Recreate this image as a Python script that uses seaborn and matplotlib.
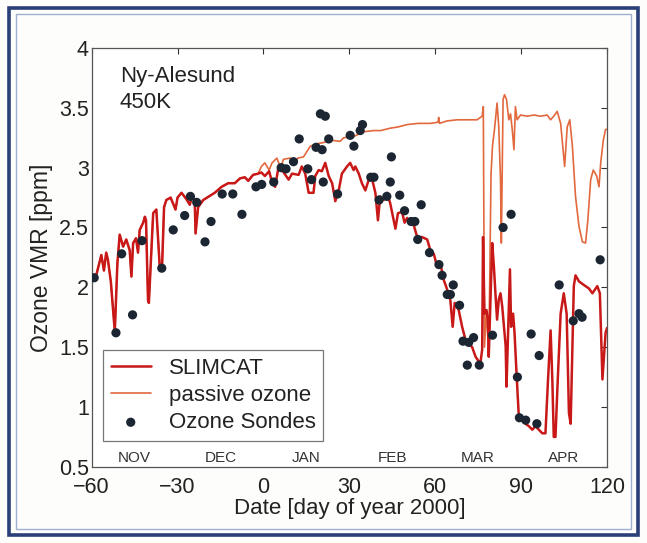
import numpy as np
import pandas as pd
import matplotlib
matplotlib.use("Agg")
import matplotlib.pyplot as plt
import seaborn as sns
from matplotlib.patches import Rectangle

# ---------------- data ----------------
slimcat_day = [-60.0, -58.4, -56.6, -55.7, -54.9, -54.3, -53.3, -51.9, -51.0, -50.2, -49.0, -47.9,
               -46.7, -46.1, -45.5, -44.5, -43.8, -43.2, -42.0, -41.4, -41.0, -40.3, -40.0, -38.5,
               -37.4, -36.2, -35.4, -34.7, -33.9, -32.4, -30.7, -30.0, -28.6, -27.0, -25.7, -25.0,
               -24.0, -23.7, -22.8, -21.0, -19.0, -17.0, -14.6, -12.3, -10.0, -8.2, -6.5, -5.3,
               -3.6, -1.85, -0.7, 0.5, 2.0, 3.0, 4.1, 5.3, 6.5, 8.8, 10.0, 12.3, 13.4, 14.6,
               15.8, 17.5, 18.1, 19.3, 20.4, 21.6, 22.8, 24.0, 25.1, 26.3, 27.4, 29.2, 30.3,
               31.5, 32.1, 33.3, 34.4, 35.6, 36.8, 37.9, 39.1, 40.0, 40.8, 42.0, 43.2, 44.3,
               46.1, 47.0, 48.4, 49.3, 50.2, 51.3, 52.5, 53.7, 55.4, 57.2, 58.3, 59.5, 60.7,
               61.8, 63.0, 64.2, 65.3, 66.1, 66.8, 68.2, 69.4, 70.6, 71.7, 72.9, 74.1, 75.2,
               75.8, 76.4, 76.7, 77.2, 77.9, 78.4, 78.7, 79.9, 80.5, 81.1, 81.6, 82.2, 82.8,
               83.4, 84.0, 84.6, 84.9, 85.7, 86.1, 86.5, 87.2, 87.7, 88.4, 89.2, 90.4, 91.5,
               92.7, 93.9, 95.0, 96.2, 97.4, 98.5, 99.4, 100.3, 100.9, 101.4, 102.0, 102.8,
               103.8, 104.9, 105.9, 106.7, 107.3, 107.9, 108.4, 109.0, 110.2, 111.9, 113.7,
               114.9, 116.6, 117.5, 118.4, 119.5, 120.0]
slimcat_ppm = [2.08, 2.10, 2.27, 2.14, 2.29, 2.23, 2.05, 1.63, 2.20, 2.44, 2.34, 2.40,
               2.31, 2.09, 2.37, 2.41, 2.29, 2.48, 2.54, 2.59, 2.56, 1.89, 1.87, 2.62,
               2.65, 2.17, 2.17, 2.67, 2.73, 2.75, 2.65, 2.75, 2.79, 2.74, 2.69, 2.76,
               2.73, 2.45, 2.67, 2.73, 2.76, 2.79, 2.84, 2.87, 2.87, 2.91, 2.92, 2.89,
               2.94, 2.95, 2.96, 2.93, 2.97, 2.88, 2.84, 3.01, 2.98, 2.90, 2.95, 2.94, 3.01, 2.95,
               2.79, 2.79, 2.93, 2.98, 2.97, 3.04, 2.93, 2.87, 2.72, 2.81, 2.95, 3.01, 3.04,
               2.98, 3.01, 2.95, 2.87, 2.81, 2.90, 2.91, 2.79, 2.56, 2.76, 2.73, 2.79, 2.70,
               2.49, 2.62, 2.63, 2.54, 2.58, 2.54, 2.52, 2.42, 2.42, 2.40, 2.31, 2.28, 2.17,
               2.20, 2.06, 1.98, 1.89, 1.67, 1.87, 1.81, 1.67, 1.56, 1.53, 1.50, 1.42, 1.38,
               1.37, 1.48, 2.42, 1.78, 1.81, 1.73, 1.42, 2.37, 2.17, 1.92, 1.73, 1.90, 1.95,
               1.84, 1.67, 1.51, 1.17, 1.84, 2.15, 1.67, 1.78, 1.62, 1.28, 0.92, 0.89, 0.86,
               0.84, 0.81, 0.84, 0.81, 0.78, 0.78, 1.23, 1.64, 1.23, 0.75, 0.75, 1.23,
               1.78, 1.95, 1.78, 0.95, 0.86, 1.51, 2.01, 2.10, 2.05, 2.02, 1.99,
               1.95, 2.01, 1.95, 1.23, 1.62, 1.66]

passive_day = [-60.0, -58.4, -56.6, -55.7, -54.9, -54.3, -53.3, -51.9, -51.0, -50.2, -49.0, -47.9,
               -46.7, -46.1, -45.5, -44.5, -43.8, -43.2, -42.0, -41.4, -41.0, -40.3, -40.0, -38.5,
               -37.4, -36.2, -35.4, -34.7, -33.9, -32.4, -30.7, -30.0, -28.6, -27.0, -25.7, -25.0,
               -24.0, -23.7, -22.8, -21.0, -19.0, -17.0, -14.6, -12.3, -10.0, -8.2, -6.5, -5.3,
               -3.6, -1.85, -0.7, 0.5, 2.0, 3.0, 4.7, 6.0, 7.0, 9.4, 11.0, 12.0, 14.0, 16.4,
               18.7, 21.0, 23.4, 26.8, 28.0, 31.5, 35.0, 38.5, 41.0, 44.3, 47.0, 50.2, 54.0,
               58.3, 61.0, 61.2, 61.5, 64.0, 67.6, 71.0, 74.6, 76.4, 76.8, 77.2, 77.9, 78.7,
               79.5, 80.0, 80.7, 81.6, 82.2, 82.8, 83.1, 83.7, 84.2, 84.9, 85.7, 86.3, 86.9,
               87.5, 88.0, 88.6, 89.8, 92.1, 94.5, 96.8, 99.1, 100.3, 101.4, 102.6, 103.8,
               105.2, 106.1, 107.0, 107.9, 109.0, 110.2, 111.4, 112.5, 113.3, 114.3, 115.2,
               116.4, 117.2, 117.8, 118.7, 119.5, 120.0]
passive_ppm = [2.08, 2.10, 2.27, 2.14, 2.29, 2.23, 2.05, 1.63, 2.20, 2.44, 2.34, 2.40,
               2.31, 2.09, 2.37, 2.41, 2.29, 2.48, 2.54, 2.59, 2.56, 1.89, 1.87, 2.62,
               2.65, 2.17, 2.17, 2.67, 2.73, 2.75, 2.65, 2.75, 2.79, 2.74, 2.69, 2.76,
               2.73, 2.45, 2.67, 2.73, 2.76, 2.79, 2.84, 2.87, 2.87, 2.91, 2.92, 2.89,
               2.94, 2.95, 3.01, 3.04, 2.98, 3.04, 3.08, 3.00, 3.07, 3.08, 3.03, 3.08, 3.09, 3.18,
               3.20, 3.21, 3.23, 3.22, 3.25, 3.26, 3.30, 3.31, 3.31, 3.33, 3.34, 3.36, 3.37,
               3.37, 3.38, 3.42, 3.37, 3.39, 3.40, 3.40, 3.40, 3.43, 3.51, 1.50, 1.81, 1.42,
               2.95, 3.18, 3.32, 3.54, 3.34, 2.90, 2.37, 3.57, 3.61, 3.57, 3.40, 3.45, 3.32,
               3.15, 3.51, 3.40, 3.44, 3.43, 3.44, 3.43, 3.44, 3.40, 3.43, 3.47, 3.37,
               3.01, 3.34, 3.40, 3.18, 2.76, 2.51, 2.38, 2.37, 2.56, 2.90, 2.98,
               2.93, 2.84, 3.04, 3.23, 3.32, 3.32]

sonde_day = [-59.1, -51.5, -49.5, -45.7, -42.4, -35.5, -31.5, -27.5, -25.5, -23.3, -20.4, -18.3,
             -14.4, -10.7, -7.5, -2.6, -0.6, 3.6, 6.2, 7.9, 10.5, 12.5, 15.5, 16.8, 18.4, 19.9,
             21.6, 20.5, 20.9, 22.8, 25.9, 30.3, 31.6, 33.8, 34.6, 37.5, 38.6, 40.4, 43.1, 44.3,
             44.7, 47.6, 49.3, 51.6, 52.9, 53.9, 55.1, 58.0, 61.3, 62.4, 64.2, 65.3, 66.3, 68.5,
             69.7, 71.7, 73.4, 71.2, 75.4, 80.0, 83.7, 86.5, 88.7, 89.4, 91.6, 93.5, 95.5, 96.3,
             103.3, 108.2, 110.2, 111.3, 117.6]
sonde_ppm = [2.08, 1.62, 2.28, 1.77, 2.39, 2.16, 2.48, 2.60, 2.76, 2.71, 2.38, 2.55,
             2.78, 2.78, 2.61, 2.84, 2.86, 2.88, 3.00, 2.99, 3.05, 3.24, 2.99, 2.90, 3.17, 3.45,
             3.43, 3.15, 2.88, 3.24, 2.78, 3.27, 3.18, 3.31, 3.36, 2.92, 2.92, 2.73, 2.76, 2.88,
             3.09, 2.77, 2.64, 2.55, 2.55, 2.40, 2.69, 2.29, 2.19, 2.10, 1.94, 1.94, 2.02, 1.85,
             1.55, 1.54, 1.58, 1.35, 1.35, 1.60, 2.50, 2.61, 1.25, 0.91, 0.89, 1.61, 0.86, 1.43,
             2.02, 1.72, 1.78, 1.75, 2.23]

x_ticks = [-60, -30, 0, 30, 60, 90, 120]
y_ticks = [0.5, 1, 1.5, 2, 2.5, 3, 3.5, 4]
y_tick_labels = ["0.5", "1", "1.5", "2", "2.5", "3", "3.5", "4"]
month_names = ["NOV", "DEC", "JAN", "FEB", "MAR", "APR"]
month_centres = [-45, -15, 15, 45, 75, 105]

# ---------------- plotting ----------------
sns.set_theme(style="white")
plt.rcParams["font.family"] = ["Liberation Sans", "DejaVu Sans"]

fig = plt.figure(figsize=(6.47, 5.43), dpi=100)
fig.patch.set_facecolor("#fdfdfb")
ax = fig.add_axes([0.1416, 0.1403, 0.7966, 0.7713])

df_s = pd.DataFrame({"day": slimcat_day, "ppm": slimcat_ppm})
df_p = pd.DataFrame({"day": passive_day, "ppm": passive_ppm})
df_o = pd.DataFrame({"day": sonde_day, "ppm": sonde_ppm})

sns.lineplot(data=df_s, x="day", y="ppm", ax=ax, color="#c81818", lw=1.8,
             estimator=None, sort=False, label="SLIMCAT", zorder=3)
sns.lineplot(data=df_p, x="day", y="ppm", ax=ax, color="#e2683e", lw=1.2,
             estimator=None, sort=False, label="passive ozone", zorder=2)
sns.scatterplot(data=df_o, x="day", y="ppm", ax=ax, color="#1c2633", s=44,
                edgecolor="none", label="Ozone Sondes", zorder=4)

ax.set_xlim(-60, 120)
ax.set_ylim(0.5, 4)
ax.set_xticks(x_ticks)
ax.set_yticks(y_ticks)
ax.set_yticklabels(y_tick_labels)
ax.tick_params(direction="in", top=True, right=True, length=4, width=0.8,
               colors="#333333", labelcolor="#222222", labelsize=15.5)
ax.tick_params(axis="x", pad=7)
ax.tick_params(axis="y", pad=2)
for sp in ax.spines.values():
    sp.set_color("#555555")
    sp.set_linewidth(0.9)
ax.set_facecolor("white")

ax.set_xlabel("Date [day of year 2000]", fontsize=16, color="#222222", labelpad=0)
ax.set_ylabel("Ozone VMR [ppm]", fontsize=16.5, color="#222222", labelpad=4)

ax.text(0.055, 0.933, "Ny-Alesund", transform=ax.transAxes, fontsize=16,
        color="#222222", va="center", ha="left")
ax.text(0.055, 0.871, "450K", transform=ax.transAxes, fontsize=16,
        color="#222222", va="center", ha="left")

trans = ax.get_xaxis_transform()
for name, c in zip(month_names, month_centres):
    ax.text(c, 0.022, name, transform=trans, fontsize=11, color="#333333",
            ha="center", va="center")

leg = ax.legend(loc="lower left", bbox_to_anchor=(0.022, 0.062), fontsize=16,
                frameon=True, fancybox=False, edgecolor="#555555",
                handlelength=1.8, labelspacing=0.28, borderpad=0.35,
                handletextpad=0.8, borderaxespad=0)
leg.get_frame().set_linewidth(0.9)
for t in leg.get_texts():
    t.set_color("#222222")

# decorative frame around the figure
fig.add_artist(Rectangle((0.014, 0.014), 0.972, 0.972, transform=fig.transFigure,
                         fill=False, edgecolor="#2b3f78", linewidth=2.6))
fig.add_artist(Rectangle((0.024, 0.026), 0.952, 0.948, transform=fig.transFigure,
                         fill=False, edgecolor="#9fb0d0", linewidth=1.0))

fig.savefig("out.png", dpi=100, facecolor=fig.get_facecolor())
